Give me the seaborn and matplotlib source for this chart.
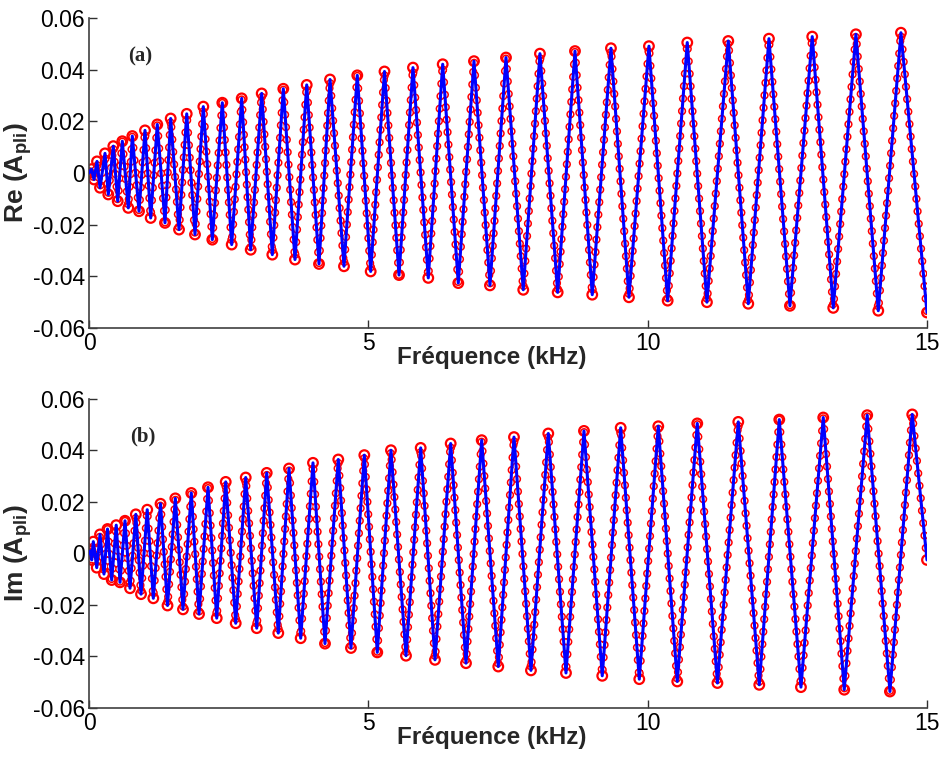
import matplotlib
matplotlib.use("Agg")

import pandas as pd
import matplotlib.pyplot as plt
import seaborn as sns

# Extrema: frequency (kHz) and Re(A_pli)
re_freq = [0.000, 0.045, 0.089, 0.143, 0.197, 0.286, 0.345, 0.435, 0.514, 0.596,
           0.703, 0.775, 0.895, 1.002, 1.104, 1.222, 1.360, 1.462, 1.611, 1.749,
           1.897, 2.046, 2.207, 2.386, 2.554, 2.733, 2.894, 3.091, 3.281, 3.478,
           3.687, 3.897, 4.117, 4.314, 4.564, 4.802, 5.042, 5.289, 5.549, 5.799,
           6.073, 6.331, 6.610, 6.891, 7.177, 7.464, 7.773, 8.072, 8.389, 8.699,
           9.008, 9.343, 9.665, 10.023, 10.358, 10.709, 11.061, 11.443, 11.801, 12.171,
           12.547, 12.946, 13.322, 13.728, 14.128, 14.534, 15.000]
re_val = [0.0000, 0.0015, -0.0025, 0.0045, -0.0057, 0.0076, -0.0083, 0.0104, -0.0109, 0.0123,
          -0.0135, 0.0143, -0.0148, 0.0165, -0.0174, 0.0188, -0.0193, 0.0211, -0.0219, 0.0229,
          -0.0238, 0.0257, -0.0258, 0.0272, -0.0277, 0.0289, -0.0297, 0.0308, -0.0316, 0.0326,
          -0.0335, 0.0341, -0.0352, 0.0362, -0.0361, 0.0378, -0.0381, 0.0393, -0.0395, 0.0408,
          -0.0406, 0.0421, -0.0426, 0.0433, -0.0435, 0.0447, -0.0452, 0.0462, -0.0462, 0.0472,
          -0.0471, 0.0483, -0.0481, 0.0491, -0.0494, 0.0505, -0.0500, 0.0511, -0.0506, 0.0520,
          -0.0514, 0.0528, -0.0522, 0.0537, -0.0533, 0.0543, -0.0540]

# Extrema: frequency (kHz) and Im(A_pli)
im_freq = [0.000, 0.027, 0.048, 0.077, 0.138, 0.197, 0.268, 0.331, 0.406, 0.487,
           0.555, 0.644, 0.734, 0.838, 0.931, 1.042, 1.151, 1.280, 1.405, 1.545,
           1.682, 1.831, 1.969, 2.130, 2.286, 2.447, 2.626, 2.805, 3.002, 3.181,
           3.388, 3.580, 3.789, 4.009, 4.224, 4.462, 4.689, 4.928, 5.160, 5.405,
           5.674, 5.937, 6.193, 6.474, 6.748, 7.029, 7.326, 7.607, 7.911, 8.221,
           8.538, 8.860, 9.187, 9.517, 9.850, 10.190, 10.530, 10.888, 11.249, 11.622,
           11.998, 12.356, 12.744, 13.143, 13.519, 13.930, 14.337, 14.736, 15.000]
im_val = [0.0000, 0.0010, -0.0025, 0.0046, -0.0055, 0.0074, -0.0080, 0.0095, -0.0103, 0.0110,
          -0.0112, 0.0127, -0.0135, 0.0152, -0.0158, 0.0170, -0.0174, 0.0193, -0.0202, 0.0214,
          -0.0217, 0.0235, -0.0235, 0.0257, -0.0251, 0.0278, -0.0271, 0.0295, -0.0290, 0.0313,
          -0.0309, 0.0330, -0.0329, 0.0352, -0.0350, 0.0365, -0.0367, 0.0382, -0.0384, 0.0401,
          -0.0397, 0.0410, -0.0413, 0.0427, -0.0426, 0.0440, -0.0439, 0.0452, -0.0454, 0.0466,
          -0.0464, 0.0476, -0.0475, 0.0488, -0.0488, 0.0494, -0.0497, 0.0505, -0.0503, 0.0511,
          -0.0510, 0.0520, -0.0519, 0.0528, -0.0529, 0.0537, -0.0536, 0.0540, -0.0025]

freq_ticks = [0, 5, 10, 15]
amp_ticks = [-0.06, -0.04, -0.02, 0, 0.02, 0.04, 0.06]
amp_labels = ["-0.06", "-0.04", "-0.02", "0", "0.02", "0.04", "0.06"]

sns.set_theme(style="ticks")
plt.rcParams["font.family"] = ["Liberation Sans", "DejaVu Sans"]
plt.rcParams["mathtext.fontset"] = "custom"
plt.rcParams["mathtext.rm"] = "Liberation Sans"
plt.rcParams["mathtext.bf"] = "Liberation Sans:bold"
plt.rcParams["lines.scale_dashes"] = False

fig = plt.figure(figsize=(9.39, 7.63), dpi=100)
ax_a = fig.add_axes([0.0948, 0.5701, 0.8924, 0.4063])
ax_b = fig.add_axes([0.0948, 0.0721, 0.8924, 0.4050])

ring_dash = (0, (0.01, 9))


def draw_panel(ax, freq, val, ylabel, tag, tag_pos):
    df = pd.DataFrame({"f": freq, "v": val})
    # red open circles along the trace
    sns.lineplot(data=df, x="f", y="v", ax=ax, color="#ff0000", lw=6.0,
                 linestyle=ring_dash, dash_capstyle="round", sort=False,
                 errorbar=None, zorder=2)
    sns.lineplot(data=df, x="f", y="v", ax=ax, color="white", lw=3.8,
                 linestyle=ring_dash, dash_capstyle="round", sort=False,
                 errorbar=None, zorder=2.1)
    sns.scatterplot(data=df, x="f", y="v", ax=ax, marker="o", s=48,
                    color="#ff0000", facecolor="none", edgecolor="#ff0000",
                    linewidth=1.6, zorder=2.2)
    sns.lineplot(data=df, x="f", y="v", ax=ax, color="#0000ff", lw=2.2,
                 solid_joinstyle="round", sort=False, errorbar=None, zorder=3)

    ax.set_xlim(0, 15)
    ax.set_ylim(-0.06, 0.06)
    ax.set_xticks(freq_ticks)
    ax.set_xticklabels([str(t) for t in freq_ticks])
    ax.set_yticks(amp_ticks)
    ax.set_yticklabels(amp_labels)
    ax.tick_params(direction="in", length=6, width=1, labelsize=16.5,
                   color="#303030", labelcolor="black", pad=3)
    sns.despine(ax=ax)
    for side in ["left", "bottom"]:
        ax.spines[side].set_color("#404040")
        ax.spines[side].set_linewidth(1.2)

    ax.set_xlabel("Fréquence (kHz)", fontsize=17.5, fontweight="bold")
    ax.xaxis.set_label_coords(0.481, -0.058)
    ax.set_ylabel(ylabel, fontsize=19, fontweight="bold")
    ax.yaxis.set_label_coords(-0.066, 0.5)
    ax.text(tag_pos[0], tag_pos[1], tag, family=["Liberation Serif", "DejaVu Serif"],
            fontsize=15, fontweight="bold", ha="left", va="center")


draw_panel(ax_a, re_freq, re_val, r"Re (A$_{\mathbf{pli}}$)", "(a)", (0.70, 0.0452))
draw_panel(ax_b, im_freq, im_val, r"Im (A$_{\mathbf{pli}}$)", "(b)", (0.74, 0.0455))

fig.savefig("out.png", dpi=100)
